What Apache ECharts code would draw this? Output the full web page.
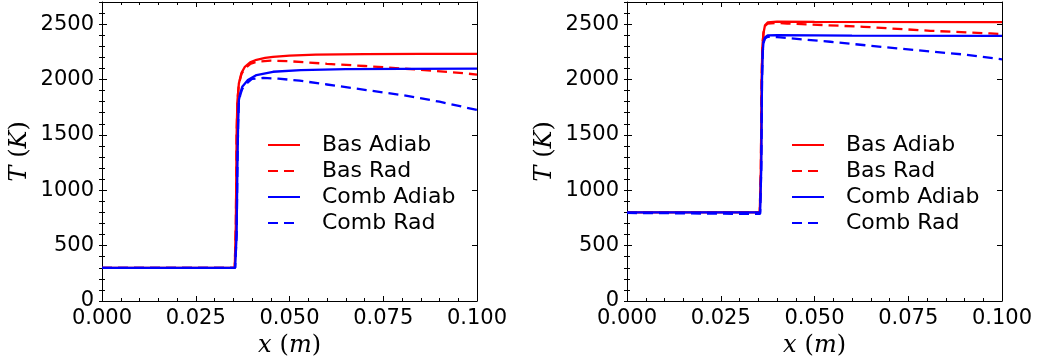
<!DOCTYPE html>
<html>
<head>
<meta charset="utf-8">
<script src="https://cdn.jsdelivr.net/npm/echarts@6/dist/echarts.min.js"></script>
<style>
  html, body { margin: 0; padding: 0; background: #fff; }
  #chart { width: 1042px; height: 363px; }
</style>
</head>
<body>
<div id="chart"></div>
<script>
// Series identity
const seriesNames = ['Bas Adiab', 'Bas Rad', 'Comb Adiab', 'Comb Rad'];
const seriesColors = ['#ff0000', '#ff0000', '#0000ff', '#0000ff'];
const seriesDashed = [false, true, false, true];

// Axis ranges and tick steps
const xRange = [0, 0.1];
const xStep = 0.025;
const yRange = [0, 2700];
const yStep = 500;
const yMinorStep = 100;

// Left panel: temperature profiles, inlet at 300 K  [x (m), T (K)]
const leftBasAdiab = [[0, 300], [0.0354, 300], [0.0357, 700], [0.0359, 1500], [0.0361, 1800], [0.0365, 1965], [0.0372, 2060], [0.0381, 2115], [0.0395, 2155], [0.0412, 2178], [0.0435, 2195], [0.0456, 2205], [0.050, 2215], [0.057, 2225], [0.070, 2230], [0.085, 2232], [0.1, 2232]];
const leftBasRad = [[0, 300], [0.0354, 300], [0.0357, 700], [0.0359, 1500], [0.0361, 1800], [0.0365, 1960], [0.0372, 2050], [0.0381, 2100], [0.0395, 2140], [0.0412, 2160], [0.045, 2170], [0.050, 2165], [0.060, 2142], [0.070, 2122], [0.076, 2109], [0.085, 2087], [0.097, 2055], [0.1, 2045]];
const leftCombAdiab = [[0, 300], [0.0355, 300], [0.0359, 600], [0.0361, 1200], [0.0363, 1600], [0.0365, 1814], [0.0369, 1880], [0.0374, 1934], [0.0389, 1995], [0.0412, 2040], [0.0456, 2070], [0.053, 2085], [0.065, 2093], [0.080, 2097], [0.1, 2098]];
const leftCombRad = [[0, 300], [0.0355, 300], [0.0359, 600], [0.0361, 1200], [0.0363, 1600], [0.0365, 1800], [0.0369, 1865], [0.0374, 1915], [0.0389, 1975], [0.040, 2005], [0.043, 2015], [0.047, 2008], [0.0527, 1990], [0.060, 1955], [0.0705, 1905], [0.080, 1860], [0.090, 1800], [0.1, 1725]];

// Right panel: temperature profiles, inlet at 800 K  [x (m), T (K)]
const rightBasAdiab = [[0, 800], [0.0354, 800], [0.0357, 1200], [0.0359, 2000], [0.0361, 2300], [0.0364, 2420], [0.0368, 2490], [0.0375, 2515], [0.040, 2522], [0.050, 2520], [0.1, 2518]];
const rightBasRad = [[0, 800], [0.0354, 800], [0.0357, 1200], [0.0359, 2000], [0.0361, 2300], [0.0364, 2420], [0.0368, 2485], [0.0375, 2505], [0.040, 2510], [0.0427, 2506], [0.0631, 2476], [0.0809, 2440], [0.0969, 2416], [0.1, 2410]];
const rightCombAdiab = [[0, 800], [0.0355, 800], [0.0358, 1200], [0.036, 2000], [0.0362, 2250], [0.0364, 2340], [0.0368, 2380], [0.0375, 2398], [0.040, 2400], [0.060, 2397], [0.1, 2395]];
const rightCombRad = [[0, 795], [0.010, 793], [0.020, 790], [0.030, 787], [0.0355, 787], [0.0358, 1200], [0.036, 2000], [0.0362, 2250], [0.0364, 2330], [0.0368, 2370], [0.0375, 2385], [0.040, 2382], [0.0409, 2380], [0.0542, 2341], [0.072, 2281], [0.0898, 2226], [0.1, 2182]];

const panels = [
  [leftBasAdiab, leftBasRad, leftCombAdiab, leftCombRad],
  [rightBasAdiab, rightBasRad, rightCombAdiab, rightCombRad]
];

const tickFont = { fontFamily: 'DejaVu Sans', fontSize: 21, color: '#000' };
const mathRich = {
  i: { fontFamily: 'DejaVu Serif', fontStyle: 'italic', fontSize: 24, color: '#000' },
  r: { fontFamily: 'DejaVu Serif', fontSize: 24, color: '#000' },
  s: { width: 8 }
};
const black = { color: '#000', width: 1 };

function xAxesFor(gi) {
  const common = {
    type: 'value', gridIndex: gi, min: xRange[0], max: xRange[1], interval: xStep,
    splitLine: { show: false },
    axisLine: { show: true, onZero: false, lineStyle: black },
    axisTick: { show: true, inside: true, length: 5, lineStyle: black },
    minorTick: { show: true, splitNumber: 5, length: 3, lineStyle: black }
  };
  return [
    Object.assign({}, common, {
      position: 'bottom',
      axisLabel: Object.assign({ show: true, margin: 7, formatter: v => v.toFixed(3) }, tickFont),
      name: '{i|x}{s|}{r|(}{i|m}{r|)}',
      nameLocation: 'middle', nameGap: 30,
      nameTextStyle: { rich: mathRich }
    }),
    Object.assign({}, common, { position: 'top', axisLabel: { show: false } })
  ];
}

function yAxesFor(gi) {
  const base = {
    type: 'value', gridIndex: gi, min: yRange[0], max: yRange[1],
    splitLine: { show: false }
  };
  const major = Object.assign({}, base, {
    interval: yStep,
    axisLine: { show: true, onZero: false, lineStyle: black },
    axisTick: { show: true, inside: true, length: 5, lineStyle: black }
  });
  const minor = Object.assign({}, base, {
    interval: yMinorStep,
    axisLine: { show: false },
    axisLabel: { show: false },
    axisTick: { show: true, inside: true, length: 3, lineStyle: black }
  });
  return [
    Object.assign({}, major, {
      position: 'left',
      axisLabel: Object.assign({ show: true, margin: 8, showMaxLabel: false, formatter: v => String(v) }, tickFont),
      name: '{i|T}{s|}{r|(}{i|K}{r|)}',
      nameLocation: 'middle', nameGap: 70, nameRotate: 90,
      nameTextStyle: { rich: mathRich }
    }),
    Object.assign({}, major, { position: 'right', axisLabel: { show: false } }),
    Object.assign({}, minor, { position: 'left' }),
    Object.assign({}, minor, { position: 'right' })
  ];
}

const grids = [
  { left: 102, top: 2, width: 375, height: 299 },
  { left: 627, top: 2, width: 375, height: 299 }
];

const series = [];
panels.forEach((curves, gi) => {
  curves.forEach((data, k) => {
    series.push({
      type: 'line',
      name: seriesNames[k],
      xAxisIndex: gi * 2,
      yAxisIndex: gi * 4,
      data: data,
      showSymbol: false,
      symbol: 'none',
      smooth: false,
      lineStyle: { color: seriesColors[k], width: 2.3, type: seriesDashed[k] ? [10, 6] : 'solid' },
      itemStyle: { color: seriesColors[k] },
      z: 2 + k
    });
  });
});

function legendFor(left) {
  return {
    left: left, top: 134, orient: 'vertical', padding: 0,
    itemWidth: 32, itemHeight: 14, itemGap: 4,
    data: seriesNames,
    selectedMode: false,
    itemStyle: { opacity: 0 },
    textStyle: { fontFamily: 'DejaVu Sans', fontSize: 22, lineHeight: 21, color: '#000', padding: [0, 0, 0, 17] }
  };
}

const chart = echarts.init(document.getElementById('chart'), null, { renderer: 'canvas' });
chart.setOption({
  animation: false,
  backgroundColor: '#fff',
  grid: grids,
  xAxis: xAxesFor(0).concat(xAxesFor(1)),
  yAxis: yAxesFor(0).concat(yAxesFor(1)),
  legend: [legendFor(267), legendFor(791)],
  series: series
});
</script>
</body>
</html>
